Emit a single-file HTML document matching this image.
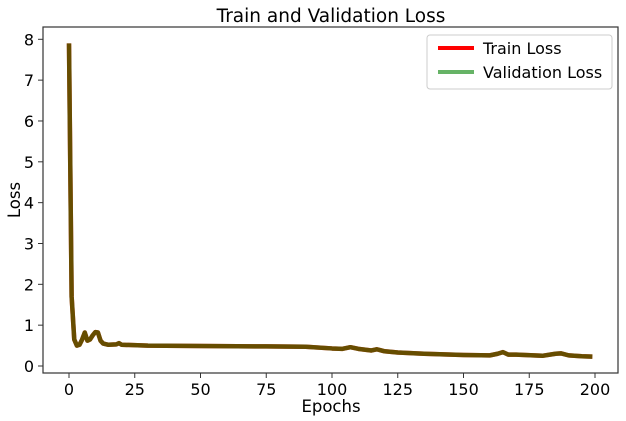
<!DOCTYPE html>
<html><head><meta charset="utf-8"><style>
body{margin:0;background:#fff;}
svg{display:block;font-family:"DejaVu Sans","Liberation Sans",sans-serif;}
</style></head><body>
<svg id="chart" width="626" height="421">
<text x="331" y="22" font-size="18.5" text-anchor="middle">Train and Validation Loss</text>
<g id="plot"></g>
<rect x="43" y="27" width="575" height="346" fill="none" stroke="#333" stroke-width="1.2"/>
<text x="331" y="412" font-size="16.5" text-anchor="middle">Epochs</text>
<text x="20" y="200" font-size="16.5" text-anchor="middle" transform="rotate(-90 20 200)">Loss</text>
<g>
<rect x="427" y="35" width="185" height="54" rx="3" fill="#fff" fill-opacity="0.8" stroke="#ccc"/>
<line x1="438" y1="48" x2="474" y2="48" stroke="red" stroke-width="4"/>
<text x="483" y="54" font-size="16">Train Loss</text>
<line x1="438" y1="72" x2="474" y2="72" stroke="green" stroke-opacity="0.6" stroke-width="4"/>
<text x="483" y="78" font-size="16">Validation Loss</text>
</g>
</svg>
<script>
const epochs=[0,1,2,3,4,5,6,7,8,9,10,11,12,13,15,18,19,20,30,50,75,90,100,104,107,110,115,117,120,125,135,150,160,163,165,167,170,180,185,187,190,195,199];
const trainLoss=[7.9,1.7,0.65,0.5,0.52,0.65,0.82,0.62,0.65,0.75,0.83,0.82,0.62,0.55,0.52,0.53,0.56,0.52,0.5,0.49,0.48,0.47,0.43,0.42,0.46,0.42,0.38,0.41,0.36,0.33,0.3,0.27,0.26,0.3,0.34,0.28,0.28,0.25,0.3,0.31,0.26,0.24,0.23];
const valLoss=trainLoss.slice();
const xTicks=[0,25,50,75,100,125,150,175,200];
const yTicks=[0,1,2,3,4,5,6,7,8];
const NS="http://www.w3.org/2000/svg";
const sx=v=>69+v*(595-69)/200;
const sy=v=>366-v*(366-39.3)/8;
const g=document.getElementById('plot');
function mk(t,a){const e=document.createElementNS(NS,t);for(const k in a)e.setAttribute(k,a[k]);return e;}
xTicks.forEach(t=>{
 const l=mk('line',{x1:sx(t),x2:sx(t),y1:373,y2:378,stroke:'#333'});
 
 
 g.appendChild(l);
 const tx=mk('text',{x:sx(t),y:395,'font-size':16,'text-anchor':'middle'});
 
 
 tx.textContent=t;g.appendChild(tx);
});
yTicks.forEach(t=>{
 const l=mk('line',{x1:38,x2:43,y1:sy(t),y2:sy(t),stroke:'#333'});
 
 
 g.appendChild(l);
 const tx=mk('text',{x:34,y:sy(t)+6,'font-size':16,'text-anchor':'end'});
 
 
 tx.textContent=t;g.appendChild(tx);
});
const pts=a=>a.map((v,i)=>sx(epochs[i])+','+sy(v)).join(' ');
const tr=mk('polyline',{points:pts(trainLoss),fill:'none',stroke:'red','stroke-width':4.5,'stroke-linejoin':'round'});


g.appendChild(tr);
const va=mk('polyline',{points:pts(valLoss),fill:'none',stroke:'green','stroke-opacity':0.6,'stroke-width':4.5,'stroke-linejoin':'round'});


g.appendChild(va);
</script>
</body></html>
